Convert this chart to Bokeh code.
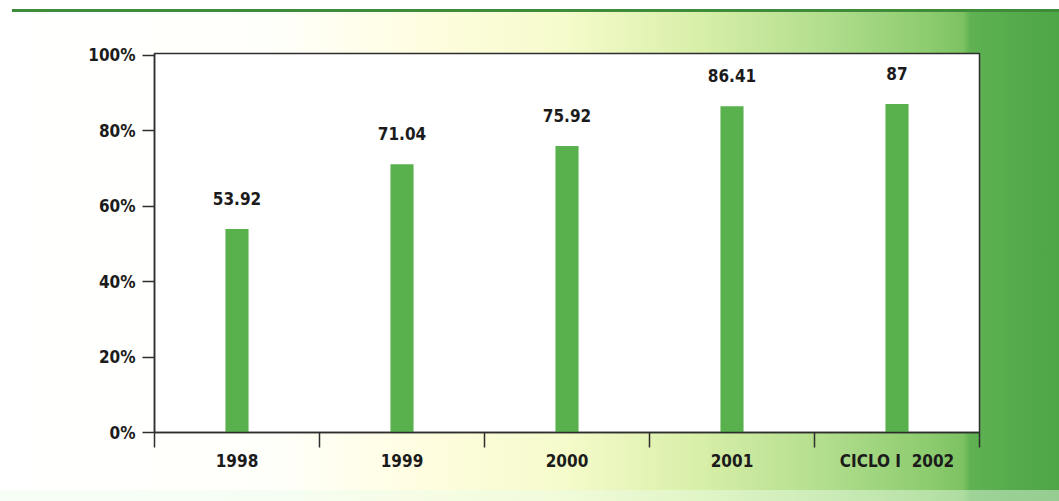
from bokeh.plotting import figure
from bokeh.models import FixedTicker, ColumnDataSource, LabelSet
from bokeh.core.properties import value
from bokeh.embed import file_html
from bokeh.resources import INLINE

# ---- data ----
categories = ["1998", "1999", "2000", "2001", "CICLO I\u00a0\u00a02002"]
values = [53.92, 71.04, 75.92, 86.41, 87]
y_ticks = [0, 20, 40, 60, 80, 100]
y_tick_labels = ["0%", "20%", "40%", "60%", "80%", "100%"]

FONT = "'Liberation Sans Narrow', 'DejaVu Sans Condensed', 'Roboto Condensed', 'Liberation Sans', sans-serif"
TEXT = "#1b1b1b"
LINE = "#2e2e2e"

xs = [i + 0.5 for i in range(len(categories))]
labels = [f"{v:g}" for v in values]
src = ColumnDataSource(dict(x=xs, top=values, label=labels))

W, H = 1059, 501
p = figure(width=W, height=H, output_backend="svg", toolbar_location=None,
           x_range=(0, len(categories)), y_range=(0, 100.4),
           min_border_left=154, min_border_right=80,
           min_border_top=53, min_border_bottom=69)

# background: page gradient via CSS behind a transparent border
p.border_fill_alpha = 0
p.background_fill_color = "white"
p.styles = {
    "background-image": (
        "linear-gradient(#3d8b3b, #3d8b3b),"
        "linear-gradient(to bottom, #ffffff 0px, #ffffff 12px, transparent 12px, transparent 490px, rgba(235,252,235,0.45) 490px),"
        "linear-gradient(to right, #ffffff 0px, #fffffa 280px, #fffde0 420px, #f6fbcc 560px, "
        "#d8efa8 700px, #b0dd8c 830px, #8ccb6e 930px, #7cc262 963px, #60b253 970px, #56ac4c 1010px, #4fa647 1059px)"
    ),
    "background-size": "calc(100% - 12px) 3px, 100% 100%, 100% 100%",
    "background-position": "12px 9px, 0 0, 0 0",
    "background-repeat": "no-repeat",
}

p.vbar(x="x", top="top", width=0.14, bottom=0, source=src,
       fill_color="#58b14c", line_color=None)

p.add_layout(LabelSet(x="x", y="top", text="label", source=src,
                      text_align="center", text_baseline="alphabetic",
                      y_offset=24, text_font=value(FONT), text_font_size="17px",
                      text_font_style="bold", text_color=TEXT))

p.xgrid.visible = False
p.ygrid.visible = False
p.outline_line_color = LINE
p.outline_line_width = 1.5

# x axis: labels at category centres, tick marks at category boundaries
xa = p.xaxis[0]
xa.ticker = FixedTicker(ticks=xs, minor_ticks=list(range(len(categories) + 1)))
xa.major_label_overrides = {x: c for x, c in zip(xs, categories)}
xa.major_tick_out = 0
xa.major_tick_in = 0
xa.minor_tick_out = 15
xa.minor_tick_in = 0
xa.minor_tick_line_color = LINE
xa.minor_tick_line_width = 1.5
xa.axis_line_color = LINE
xa.axis_line_width = 1.5
xa.major_label_standoff = 3
xa.major_label_text_font = FONT
xa.major_label_text_font_size = "17px"
xa.major_label_text_font_style = "bold"
xa.major_label_text_color = TEXT

ya = p.yaxis[0]
ya.ticker = FixedTicker(ticks=y_ticks, minor_ticks=[])
ya.major_label_overrides = {t: l for t, l in zip(y_ticks, y_tick_labels)}
ya.major_tick_out = 12
ya.major_tick_in = 0
ya.major_tick_line_color = LINE
ya.major_tick_line_width = 1.5
ya.minor_tick_line_color = None
ya.axis_line_color = LINE
ya.axis_line_width = 1.5
ya.major_label_standoff = 7
ya.major_label_text_font = FONT
ya.major_label_text_font_size = "17px"
ya.major_label_text_font_style = "bold"
ya.major_label_text_color = TEXT

open("out.html", "w").write(file_html(p, INLINE))
